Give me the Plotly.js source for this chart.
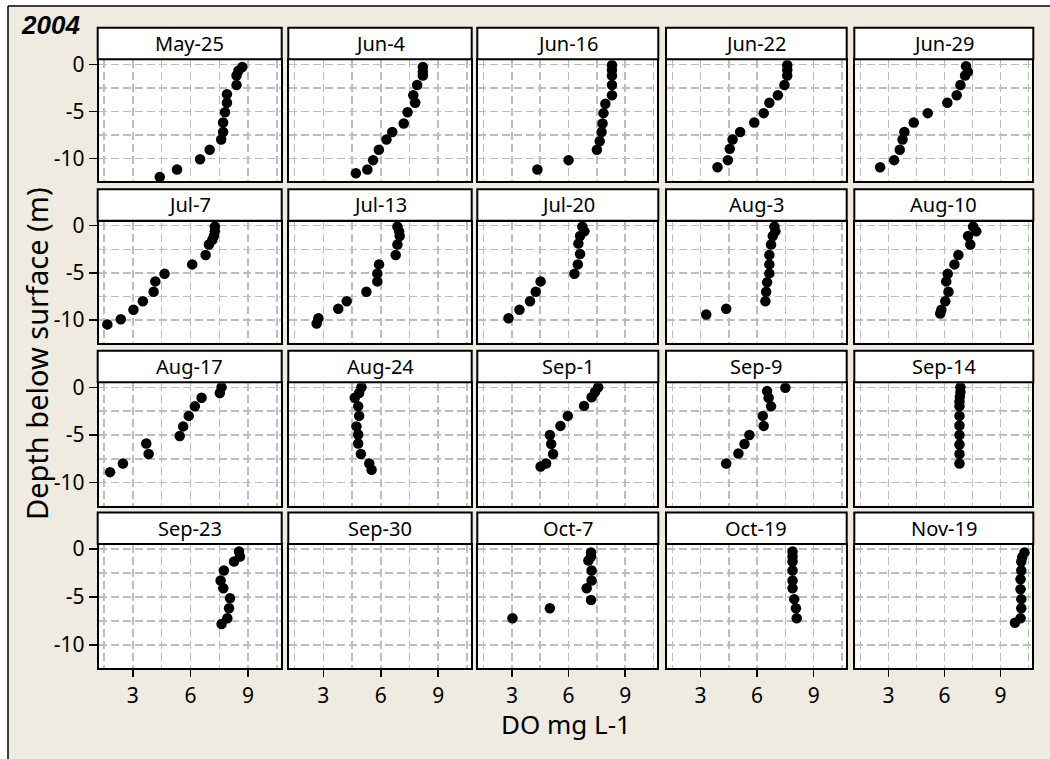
<!DOCTYPE html>
<html>
<head>
<meta charset="utf-8">
<script src="https://cdn.plot.ly/plotly-3.0.1.min.js"></script>
<style>html,body{margin:0;padding:0;background:#fff;}#chart{width:1050px;height:759px;}</style>
</head>
<body>
<div id="chart"></div>
<script>
// ---------- DATA (DO in mg L-1, depth in m below surface) ----------
const dates = ['May-25','Jun-4','Jun-16','Jun-22','Jun-29',
               'Jul-7','Jul-13','Jul-20','Aug-3','Aug-10',
               'Aug-17','Aug-24','Sep-1','Sep-9','Sep-14',
               'Sep-23','Sep-30','Oct-7','Oct-19','Nov-19'];

const do_May25   = [8.7, 8.5, 8.4, 8.4, 7.9, 7.9, 7.8, 7.7, 7.7, 7.6, 7.0, 6.5, 5.3, 4.4];
const dep_May25  = [-0.3, -0.7, -1.2, -2.2, -3.2, -4.1, -5.1, -6.2, -7.2, -8.0, -9.1, -10.1, -11.2, -12.0];
const do_Jun4    = [8.2, 8.2, 8.2, 7.9, 7.7, 7.8, 7.4, 7.2, 6.6, 6.3, 5.9, 5.6, 5.3, 4.7];
const dep_Jun4   = [-0.3, -0.8, -1.2, -2.2, -3.3, -4.1, -5.1, -6.3, -7.2, -8.0, -9.1, -10.2, -11.2, -11.6];
const do_Jun16   = [8.3, 8.3, 8.3, 8.3, 8.3, 7.95, 7.85, 7.8, 7.75, 7.65, 7.5, 6.0, 4.35];
const dep_Jun16  = [-0.1, -0.6, -1.2, -2.2, -3.3, -4.2, -5.2, -6.3, -7.2, -8.2, -9.1, -10.2, -11.2];
const do_Jun22   = [7.6, 7.6, 7.6, 7.45, 7.1, 6.65, 6.35, 5.85, 5.1, 4.7, 4.55, 4.45, 3.9];
const dep_Jun22  = [-0.1, -0.6, -1.2, -2.2, -3.3, -4.1, -5.2, -6.2, -7.2, -8.0, -9.0, -10.2, -10.95];
const do_Jun29   = [7.15, 7.25, 7.1, 6.85, 6.65, 6.15, 5.1, 4.35, 3.85, 3.75, 3.6, 3.3, 2.55];
const dep_Jun29  = [-0.2, -0.8, -1.2, -2.2, -3.3, -4.1, -5.2, -6.2, -7.2, -8.0, -9.1, -10.2, -10.95];
const do_Jul7    = [7.27, 7.27, 7.22, 7.14, 6.96, 6.79, 6.09, 4.65, 4.17, 4.08, 3.52, 3.03, 2.37, 1.67];
const dep_Jul7   = [-0.1, -0.6, -1.1, -1.5, -2.0, -3.1, -4.1, -5.1, -5.9, -7.0, -8.0, -8.9, -9.9, -10.45];
const do_Jul13   = [6.87, 6.96, 6.99, 6.87, 6.78, 5.91, 5.82, 5.82, 5.25, 4.22, 3.78, 2.74, 2.65];
const dep_Jul13  = [-0.1, -0.6, -1.1, -2.0, -3.1, -4.1, -5.05, -5.9, -7.0, -8.0, -8.8, -9.8, -10.35];
const do_Jul20   = [6.73, 6.84, 6.61, 6.52, 6.61, 6.49, 6.31, 4.52, 4.26, 3.96, 3.4, 2.82];
const dep_Jul20  = [-0.1, -0.6, -1.1, -1.9, -3.0, -4.1, -5.1, -5.9, -7.0, -8.0, -8.9, -9.8];
const do_Aug3    = [6.92, 6.97, 6.83, 6.74, 6.65, 6.65, 6.65, 6.53, 6.48, 6.44, 4.36, 3.3];
const dep_Aug3   = [-0.1, -0.6, -1.1, -2.0, -3.1, -4.1, -5.05, -6.0, -7.0, -8.0, -8.8, -9.4];
const do_Aug10   = [7.53, 7.7, 7.26, 7.38, 6.74, 6.53, 6.17, 6.09, 6.21, 6.04, 5.83, 5.77];
const dep_Aug10  = [-0.1, -0.6, -1.1, -2.0, -3.1, -4.1, -5.1, -5.9, -7.0, -8.0, -8.9, -9.3];
const do_Aug17   = [7.62, 7.53, 6.58, 6.23, 5.91, 5.62, 5.44, 3.7, 3.82, 2.48, 1.81];
const dep_Aug17  = [0, -0.6, -1.1, -2.0, -3.0, -4.1, -5.1, -5.9, -7.0, -8.0, -8.9];
const do_Aug24   = [4.99, 4.87, 4.64, 4.82, 4.87, 4.73, 4.82, 4.82, 4.96, 5.4, 5.52];
const dep_Aug24  = [0, -0.6, -1.1, -2.0, -3.0, -4.1, -4.95, -5.9, -7.0, -8.0, -8.65];
const do_Sep1    = [7.57, 7.4, 7.22, 6.82, 5.96, 5.57, 5.01, 5.08, 5.18, 4.81, 4.52];
const dep_Sep1   = [0, -0.5, -1.05, -1.95, -3.0, -4.05, -5.0, -5.95, -7.0, -8.0, -8.3];
const do_Sep9    = [7.5, 6.53, 6.61, 6.74, 6.3, 6.35, 5.59, 5.33, 5.01, 4.36];
const dep_Sep9   = [-0.05, -0.4, -1.1, -2.0, -3.0, -4.05, -5.0, -5.95, -6.95, -8.0];
const do_Sep14   = [6.85, 6.85, 6.82, 6.8, 6.8, 6.8, 6.8, 6.8, 6.8, 6.8, 6.8];
const dep_Sep14  = [0, -0.5, -1, -1.5, -2, -3, -4, -5, -6, -7, -8];
const do_Sep23   = [8.53, 8.58, 8.27, 7.74, 7.57, 7.71, 8.06, 8.01, 7.92, 7.62];
const dep_Sep23  = [-0.25, -0.77, -1.3, -2.24, -3.28, -4.08, -5.12, -6.17, -7.21, -7.81];
const do_Sep30   = [];
const dep_Sep30  = [];
const do_Oct7    = [7.19, 7.19, 7.05, 7.22, 7.22, 6.96, 7.19, 5.01, 3.03];
const dep_Oct7   = [-0.35, -0.77, -1.19, -2.24, -3.28, -4.08, -5.3, -6.17, -7.21];
const do_Oct19   = [7.88, 7.88, 7.88, 7.88, 7.88, 7.88, 7.97, 8.06, 8.1];
const dep_Oct19  = [-0.25, -0.77, -1.3, -2.24, -3.28, -4.08, -5.22, -6.17, -7.21];
const do_Nov19   = [10.28, 10.16, 10.11, 10.11, 10.07, 10.07, 10.11, 10.11, 10.07, 9.77];
const dep_Nov19  = [-0.35, -0.84, -1.3, -2.24, -3.14, -4.18, -5.22, -6.17, -7.21, -7.67];

const doSeries = [do_May25, do_Jun4, do_Jun16, do_Jun22, do_Jun29,
                  do_Jul7, do_Jul13, do_Jul20, do_Aug3, do_Aug10,
                  do_Aug17, do_Aug24, do_Sep1, do_Sep9, do_Sep14,
                  do_Sep23, do_Sep30, do_Oct7, do_Oct19, do_Nov19];
const depthSeries = [dep_May25, dep_Jun4, dep_Jun16, dep_Jun22, dep_Jun29,
                     dep_Jul7, dep_Jul13, dep_Jul20, dep_Aug3, dep_Aug10,
                     dep_Aug17, dep_Aug24, dep_Sep1, dep_Sep9, dep_Sep14,
                     dep_Sep23, dep_Sep30, dep_Oct7, dep_Oct19, dep_Nov19];

const xTickVals = [3, 6, 9];
const xTickText = ['3', '6', '9'];
const yTickVals = [0, -5, -10];
const yTickText = ['0', '-5', '-10'];

// ---------- LAYOUT ----------
const W = 1050, H = 759;
const px = v => v / W;
const py = v => 1 - v / H;
const colL = [98.7, 289.3, 478.3, 667.0, 855.3];
const colR = [280.7, 470.7, 657.3, 845.7, 1032.3];
const rowT = [60.3, 221.7, 383.3, 545.0];
const rowB = [181.0, 343.0, 505.7, 668.3];
const headH = 31.5;

const FONT = 'Noto Sans, Liberation Sans, sans-serif';
const gridCol = '#bdbdbd';
const gridDash = '8px,4px';

const traces = [];
const layout = {
  width: W, height: H,
  margin: {l: 0, r: 0, t: 0, b: 0},
  paper_bgcolor: '#f0ebe1',
  plot_bgcolor: '#ffffff',
  showlegend: false,
  font: {family: FONT, color: '#000'},
  shapes: [
    {type: 'rect', xref: 'paper', yref: 'paper', layer: 'below',
     x0: 0, x1: px(8), y0: 0, y1: 1, fillcolor: '#ffffff', line: {width: 0}},
    {type: 'rect', xref: 'paper', yref: 'paper', layer: 'below',
     x0: 0, x1: 1, y0: py(6), y1: 1, fillcolor: '#ffffff', line: {width: 0}},
    {type: 'line', xref: 'paper', yref: 'paper', layer: 'below',
     x0: px(8), x1: 1, y0: py(6), y1: py(6), line: {color: '#000', width: 1.5}},
    {type: 'line', xref: 'paper', yref: 'paper', layer: 'below',
     x0: px(8), x1: px(8), y0: 0, y1: py(6), line: {color: '#000', width: 1.5}}
  ],
  annotations: []
};

for (let i = 0; i < 20; i++) {
  const r = Math.floor(i / 5), c = i % 5;
  const n = i + 1;
  const xa = 'xaxis' + (n > 1 ? n : '');
  const ya = 'yaxis' + (n > 1 ? n : '');
  const xid = 'x' + (n > 1 ? n : '');
  const yid = 'y' + (n > 1 ? n : '');
  const bottom = (r === 3), left = (c === 0);

  traces.push({
    type: 'scatter', mode: 'markers',
    x: doSeries[i], y: depthSeries[i],
    xaxis: xid, yaxis: yid,
    marker: {color: '#000', size: 10.5, line: {width: 0}},
    hoverinfo: 'x+y'
  });

  layout[xa] = {
    domain: [px(colL[c]), px(colR[c])],
    anchor: yid,
    range: [1.22, 10.7],
    tickmode: 'array', tickvals: xTickVals, ticktext: xTickText,
    showticklabels: bottom,
    ticks: bottom ? 'outside' : '', ticklen: 7, tickwidth: 1.5, tickcolor: '#000',
    tickfont: {size: 21, family: FONT, color: '#000'},
    showgrid: true, gridcolor: gridCol, gridwidth: 1.5, griddash: gridDash,
    minor: {tickmode: 'linear', tick0: 0, dtick: 1.5, showgrid: true,
            gridcolor: gridCol, gridwidth: 1.5, griddash: gridDash, ticks: ''},
    zeroline: false,
    showline: true, mirror: true, linecolor: '#000', linewidth: 2,
    fixedrange: true
  };
  layout[ya] = {
    domain: [py(rowB[r]), py(rowT[r])],
    anchor: xid,
    range: [-12.42, 0.42],
    tickmode: 'array', tickvals: yTickVals, ticktext: yTickText,
    showticklabels: left,
    ticks: left ? 'outside' : '', ticklen: 8, tickwidth: 1.5, tickcolor: '#000',
    tickfont: {size: 21, family: FONT, color: '#000'},
    showgrid: true, gridcolor: gridCol, gridwidth: 1.5, griddash: gridDash,
    minor: {tickmode: 'linear', tick0: 0, dtick: 2.5, showgrid: true,
            gridcolor: gridCol, gridwidth: 1.5, griddash: gridDash, ticks: ''},
    zeroline: false,
    showline: true, mirror: true, linecolor: '#000', linewidth: 2,
    fixedrange: true
  };

  // panel header (strip)
  layout.shapes.push({
    type: 'rect', xref: 'paper', yref: 'paper', layer: 'above',
    x0: px(colL[c] - 1), x1: px(colR[c] + 1),
    y0: py(rowT[r] - 1), y1: py(rowT[r] - 1 - headH),
    fillcolor: '#ffffff', line: {color: '#000', width: 2}
  });
  layout.annotations.push({
    xref: 'paper', yref: 'paper', showarrow: false,
    x: px((colL[c] + colR[c]) / 2), y: py(rowT[r] - 1 - headH / 2),
    xanchor: 'center', yanchor: 'middle',
    text: dates[i], font: {size: 20, family: FONT, color: '#000'}
  });
}

layout.annotations.push(
  {xref: 'paper', yref: 'paper', showarrow: false,
   x: px(36), y: py(354), xanchor: 'center', yanchor: 'middle',
   textangle: -90, text: 'Depth below surface (m)',
   font: {size: 29, family: FONT, color: '#000'}},
  {xref: 'paper', yref: 'paper', showarrow: false,
   x: px(566), y: py(724), xanchor: 'center', yanchor: 'middle',
   text: 'DO mg L-1', font: {size: 26, family: FONT, color: '#000'}},
  {xref: 'paper', yref: 'paper', showarrow: false,
   x: px(50), y: py(25), xanchor: 'center', yanchor: 'middle',
   text: '<b><i>2004</i></b>', font: {size: 26, family: 'Liberation Sans, Arial, sans-serif', color: '#000'}}
);

Plotly.newPlot('chart', traces, layout, {staticPlot: true, displayModeBar: false});
</script>
</body>
</html>
